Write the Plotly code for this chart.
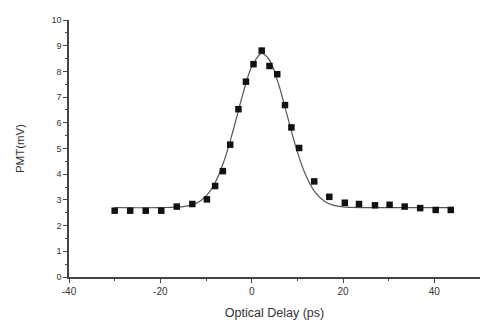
import plotly.graph_objects as go

# Measured data points (Optical delay in ps, PMT signal in mV)
delay_ps = [-30.0, -26.6, -23.2, -19.8, -16.4, -13.0, -9.8, -8.0, -6.3, -4.7, -2.9,
            -1.25, 0.4, 2.2, 3.9, 5.6, 7.3, 8.7, 10.4, 13.7, 17.0, 20.4, 23.5,
            27.0, 30.2, 33.5, 36.9, 40.3, 43.6]
pmt_mv = [2.58, 2.58, 2.58, 2.58, 2.74, 2.84, 3.02, 3.54, 4.12, 5.15, 6.53,
          7.60, 8.28, 8.81, 8.21, 7.89, 6.69, 5.82, 5.02, 3.72, 3.12, 2.89, 2.84,
          2.79, 2.81, 2.74, 2.68, 2.61, 2.61]

# Fit curve
fit_x = [-30, -20, -15, -12, -10, -8, -6, -4, -2, 0, 2, 2.3, 4, 6, 8, 10, 12,
         14, 16, 18, 20, 25, 30, 35, 40, 44]
fit_y = [2.70, 2.70, 2.74, 2.88, 3.15, 3.67, 4.54, 5.74, 7.07, 8.18, 8.69, 8.70,
         8.41, 7.44, 6.14, 4.87, 3.90, 3.27, 2.94, 2.79, 2.73, 2.70, 2.70, 2.70,
         2.70, 2.70]

x_ticks = [-40, -20, 0, 20, 40]
y_ticks = [0, 1, 2, 3, 4, 5, 6, 7, 8, 9, 10]

fig = go.Figure()
fig.add_trace(go.Scatter(x=fit_x, y=fit_y, mode="lines", line_shape="spline",
                         line=dict(color="#555555", width=1.2), showlegend=False))
fig.add_trace(go.Scatter(x=delay_ps, y=pmt_mv, mode="markers",
                         marker=dict(symbol="square", size=6.5, color="#111111"),
                         showlegend=False))

axis_font = dict(family="Liberation Sans, Arial, sans-serif", size=10, color="#333333")
fig.update_layout(
    width=480, height=322,
    margin=dict(l=69, r=0, t=20, b=45),
    paper_bgcolor="white", plot_bgcolor="white",
    font=axis_font,
    xaxis=dict(range=[-40, 50], tickvals=x_ticks, ticktext=[str(v) for v in x_ticks],
               showgrid=False, zeroline=False, showline=True, linecolor="#444444",
               linewidth=1.5, ticks="outside", ticklen=4, tickwidth=1, tickcolor="#444444",
               minor=dict(dtick=10, ticks="outside", ticklen=2, tickcolor="#444444"),
               title=dict(text="Optical Delay (ps)", font=dict(size=12.5), standoff=12),
               tickfont=axis_font),
    yaxis=dict(range=[0, 10], tickvals=y_ticks, ticktext=[str(v) for v in y_ticks],
               showgrid=False, zeroline=False, showline=True, linecolor="#444444",
               linewidth=1.5, ticks="outside", ticklen=4, tickwidth=1, tickcolor="#444444",
               minor=dict(dtick=0.5, ticks="outside", ticklen=2, tickcolor="#444444"),
               title=dict(text="PMT(mV)", font=dict(size=11.5), standoff=24),
               tickfont=dict(family="Liberation Sans, Arial, sans-serif", size=9, color="#333333")),
)
fig.write_html("out.html")
